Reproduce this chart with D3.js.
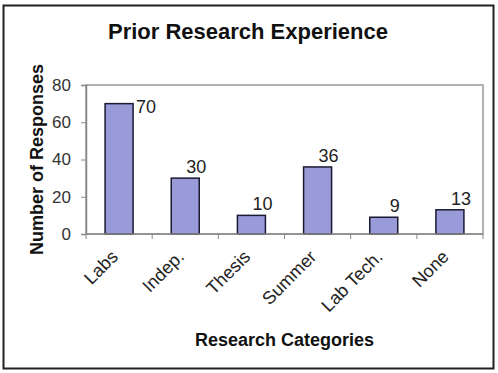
<!DOCTYPE html>
<html>
<head>
<meta charset="utf-8">
<script src="https://d3js.org/d3.v7.min.js"></script>
<style>
  body { margin: 0; background: #fff; }
  text { font-family: Arial, "Liberation Sans", sans-serif; }
</style>
</head>
<body>
<div id="chart"></div>
<script>
const w = 498,
    h = 373;

const categories = ["Labs", "Indep.", "Thesis", "Summer", "Lab Tech.", "None"];
const responses = [70, 30, 10, 36, 9, 13];
const yTicks = [0, 20, 40, 60, 80];

const plotL = 86, plotR = 483, plotT = 85, plotB = 234;

const svg = d3.select("#chart")
    .append("svg")
    .attr("width", w)
    .attr("height", h);

// outer frame
svg.append("rect")
    .attr("x", 3.5).attr("y", 5.5)
    .attr("width", 490).attr("height", 363)
    .attr("fill", "#fff")
    .attr("stroke", "#222")
    .attr("stroke-width", 2);

const xScale = d3.scaleBand()
    .domain(categories)
    .range([plotL, plotR]);

const yScale = d3.scaleLinear()
    .domain([0, 80])
    .range([plotB, plotT]);

// plot area border
svg.append("rect")
    .attr("x", plotL).attr("y", plotT)
    .attr("width", plotR - plotL).attr("height", plotB - plotT)
    .attr("fill", "none")
    .attr("stroke", "#999")
    .attr("stroke-width", 1.5);

const barW = 28;

svg.selectAll("rect.bar")
    .data(responses)
    .enter()
    .append("rect")
    .attr("class", "bar")
    .attr("x", (d, i) => xScale(categories[i]) + xScale.bandwidth() / 2 - barW / 2)
    .attr("y", d => yScale(d))
    .attr("width", barW)
    .attr("height", d => plotB - yScale(d))
    .attr("fill", "#999ad8")
    .attr("stroke", "#1a1a33")
    .attr("stroke-width", 1.5);

// y axis
const yAxis = svg.append("g")
    .attr("transform", "translate(" + plotL + ",0)")
    .call(d3.axisLeft(yScale).tickValues(yTicks).tickSize(5).tickPadding(10));
yAxis.select(".domain").attr("stroke", "#888").attr("stroke-width", 1.5);
yAxis.selectAll(".tick line").attr("stroke", "#888");
yAxis.selectAll(".tick text")
    .attr("font-size", 17)
    .attr("fill", "#333");

// x axis line + ticks at category boundaries
svg.append("line")
    .attr("x1", plotL).attr("x2", plotR)
    .attr("y1", plotB).attr("y2", plotB)
    .attr("stroke", "#888").attr("stroke-width", 1.5);

svg.selectAll("line.xtick")
    .data(categories.concat([null]))
    .enter()
    .append("line")
    .attr("class", "xtick")
    .attr("x1", (d, i) => plotL + i * xScale.bandwidth())
    .attr("x2", (d, i) => plotL + i * xScale.bandwidth())
    .attr("y1", plotB).attr("y2", plotB + 5)
    .attr("stroke", "#888");

svg.selectAll("text.xlab")
    .data(categories)
    .enter()
    .append("text")
    .attr("class", "xlab")
    .attr("text-anchor", "end")
    .attr("font-size", 18)
    .attr("fill", "#222")
    .attr("transform", d => {
        const x = xScale(d) + xScale.bandwidth() / 2 - 9,
            y = plotB + 15;
        return "translate(" + x + "," + y + ") rotate(-45)";
    })
    .attr("dy", "0.7em")
    .text(d => d);

// value labels
svg.selectAll("text.val")
    .data(responses)
    .enter()
    .append("text")
    .attr("class", "val")
    .attr("font-size", 18)
    .attr("fill", "#222")
    .attr("text-anchor", "middle")
    .attr("x", (d, i) => {
        const cx = xScale(categories[i]) + xScale.bandwidth() / 2;
        return yScale(d) - 20 < plotT ? cx + barW / 2 + 13 : cx + 11;
    })
    .attr("y", d => yScale(d) - 20 < plotT ? yScale(d) + 9 : yScale(d) - 5)
    .text(d => d);

// titles
svg.append("text")
    .attr("x", 248).attr("y", 39)
    .attr("text-anchor", "middle")
    .attr("font-size", 22)
    .attr("font-weight", "bold")
    .attr("fill", "#111")
    .text("Prior Research Experience");

svg.append("text")
    .attr("x", (plotL + plotR) / 2).attr("y", 346)
    .attr("text-anchor", "middle")
    .attr("font-size", 18)
    .attr("font-weight", "bold")
    .attr("fill", "#111")
    .text("Research Categories");

svg.append("text")
    .attr("transform", "translate(43," + (plotT + plotB) / 2 + ") rotate(-90)")
    .attr("text-anchor", "middle")
    .attr("font-size", 18)
    .attr("font-weight", "bold")
    .attr("fill", "#111")
    .text("Number of Responses");
</script>
</body>
</html>
